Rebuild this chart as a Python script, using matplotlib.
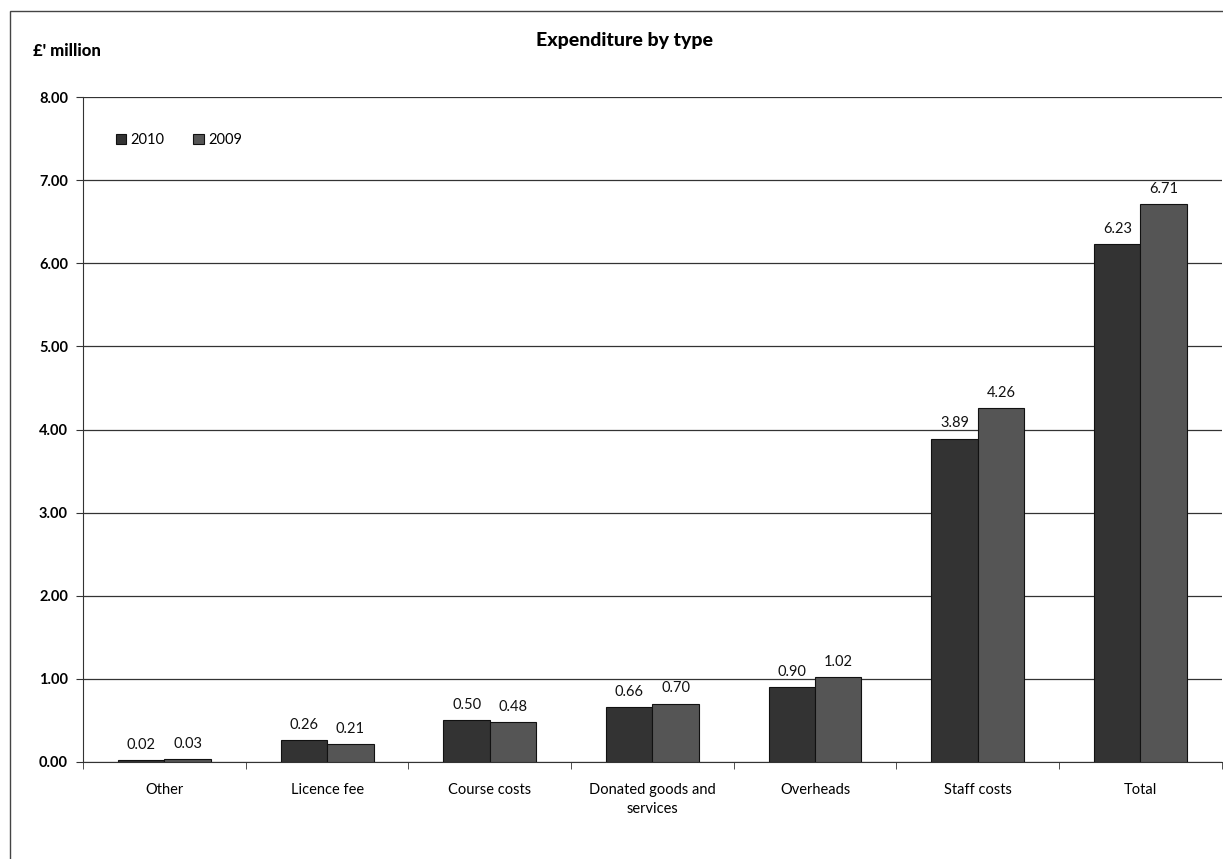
import numpy as np
import matplotlib
matplotlib.use("Agg")
import matplotlib.pyplot as plt
from matplotlib.patches import Rectangle

# data
categories = ["Other", "Licence fee", "Course costs", "Donated goods and\nservices",
              "Overheads", "Staff costs", "Total"]
values_2010 = [0.02, 0.26, 0.50, 0.66, 0.90, 3.89, 6.23]
values_2009 = [0.03, 0.21, 0.48, 0.70, 1.02, 4.26, 6.71]
y_ticks = [0, 1, 2, 3, 4, 5, 6, 7, 8]

plt.rcParams['font.family'] = ['Lato', 'DejaVu Sans']

fig = plt.figure(figsize=(12.23, 8.59), dpi=100)
ax = fig.add_axes([0.068, 0.113, 0.931, 0.774])

x = np.arange(len(categories))
w = 0.285
b1 = ax.bar(x - w / 2, values_2010, w, color="#333333", edgecolor="#111111",
            linewidth=0.8, label="2010", zorder=3)
b2 = ax.bar(x + w / 2, values_2009, w, color="#555555", edgecolor="#111111",
            linewidth=0.8, label="2009", zorder=3)

for bars, vals in ((b1, values_2010), (b2, values_2009)):
    for r, v in zip(bars, vals):
        ax.text(r.get_x() + r.get_width() / 2, v + 0.1, f"{v:.2f}",
                ha="center", va="bottom", fontsize=10.5, color="#111111")

ax.set_xlim(-0.5, len(categories) - 0.5)
ax.set_ylim(0, 8)
ax.set_yticks(y_ticks)
ax.set_yticklabels([f"{t:.2f}" for t in y_ticks], fontsize=10.5, fontweight="bold")
ax.yaxis.grid(True, color="#333333", linewidth=0.9, zorder=0)
ax.set_axisbelow(True)

ax.set_xticks(x)
ax.set_xticklabels(categories, fontsize=10.5, linespacing=1.5)
ax.tick_params(axis="x", length=0, pad=15)
ax.set_xticks(np.arange(len(categories) + 1) - 0.5, minor=True)
ax.tick_params(axis="x", which="minor", length=5, color="#333333")
ax.tick_params(axis="y", length=5, color="#333333", pad=6)

for s in ("top", "right"):
    ax.spines[s].set_visible(False)
ax.spines["left"].set_color("#333333")
ax.spines["bottom"].set_color("#333333")

leg = ax.legend(loc="upper left", bbox_to_anchor=(0.017, 0.966), ncol=2, frameon=False,
                fontsize=10.5, handlelength=0.7, handleheight=0.7, handletextpad=0.3,
                columnspacing=2.0)

fig.text(0.511, 0.953, "Expenditure by type", ha="center", va="center",
         fontsize=14, fontweight="black")
fig.text(0.027, 0.941, "£' million", ha="left", va="center",
         fontsize=12, fontweight="black")

# outer chart frame
fig.patches.append(Rectangle((0.008, -0.01), 1.2, 0.997, transform=fig.transFigure,
                             fill=False, edgecolor="#444444", linewidth=1.0))

fig.savefig("out.png", dpi=100)
